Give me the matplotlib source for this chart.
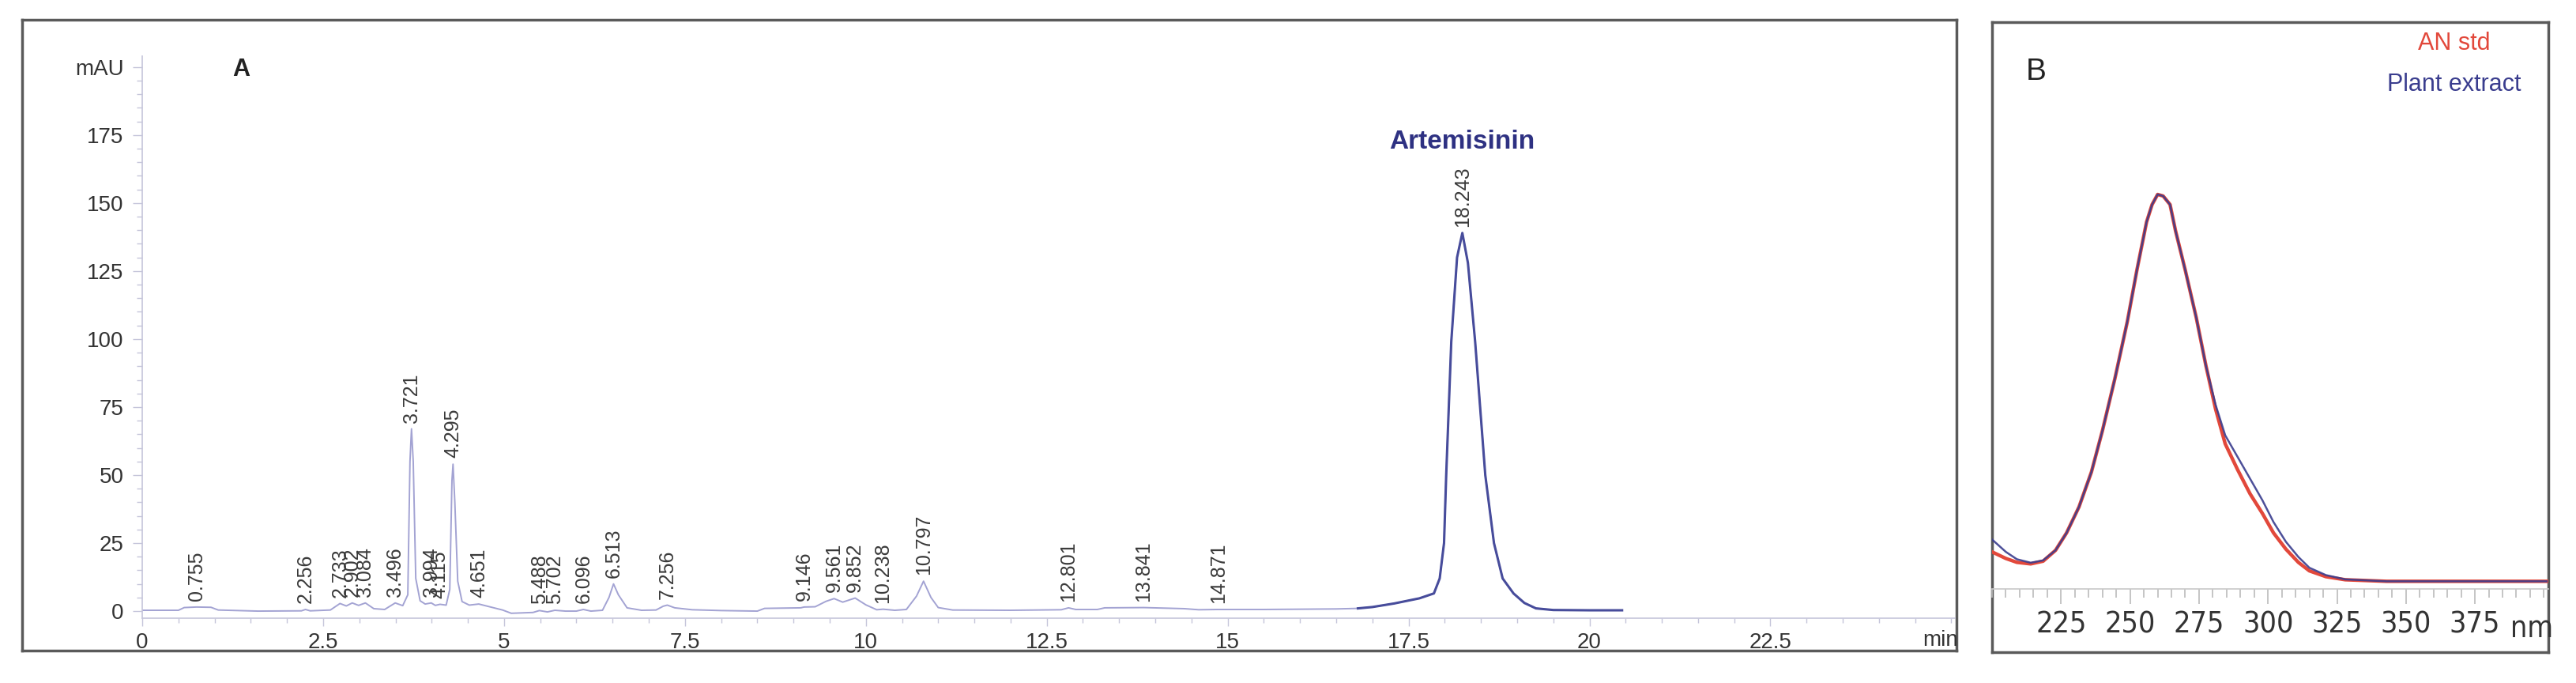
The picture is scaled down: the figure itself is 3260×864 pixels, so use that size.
import numpy as np
import matplotlib
matplotlib.use('Agg')
import matplotlib.pyplot as plt
from matplotlib.ticker import MultipleLocator, FixedLocator, FuncFormatter

plt.rcParams['font.family'] = ['Liberation Sans', 'DejaVu Sans']

# ---- panel A: HPLC chromatogram (time in min, absorbance in mAU) ----
trace_t = [0.00, 0.50, 0.58, 0.75, 0.95, 1.05, 1.60, 2.20, 2.256, 2.32,
           2.60, 2.733, 2.82, 2.902, 2.99, 3.084, 3.20, 3.35, 3.496, 3.60,
           3.67, 3.70, 3.721, 3.745, 3.78, 3.84, 3.91, 3.994, 4.05, 4.115,
           4.20, 4.25, 4.28, 4.295, 4.32, 4.36, 4.42, 4.52, 4.651, 4.80,
           4.98, 5.10, 5.40, 5.488, 5.60, 5.702, 5.85, 6.00, 6.096, 6.20,
           6.36, 6.45, 6.513, 6.58, 6.70, 6.90, 7.10, 7.20, 7.256, 7.36,
           7.60, 8.00, 8.50, 8.60, 9.10, 9.146, 9.30, 9.45, 9.561, 9.68,
           9.852, 10.00, 10.15, 10.238, 10.40, 10.56, 10.70, 10.797, 10.90, 11.00,
           11.20, 12.00, 12.70, 12.801, 12.90, 13.20, 13.30, 13.841, 14.40, 14.60,
           14.871, 15.50, 16.50, 16.80, 17.00, 17.30, 17.65, 17.85, 17.93, 17.99,
           18.02, 18.09, 18.17, 18.243, 18.32, 18.42, 18.56, 18.68, 18.80, 18.95,
           19.10, 19.26, 19.50, 20.00, 20.45]
trace_mau = [0.3, 0.3, 1.3, 1.5, 1.4, 0.4, 0.0, 0.1, 0.6, 0.1,
             0.4, 2.8, 1.9, 3.0, 2.1, 3.0, 0.9, 0.6, 3.0, 2.0,
             6.0, 55, 67, 55, 12, 3.8, 2.6, 3.0, 2.1, 2.5,
             2.2, 8, 48, 54, 40, 11, 3.5, 2.2, 2.6, 1.6,
             0.4, -0.8, -0.5, 0.2, -0.3, 0.3, 0.0, 0.0, 0.6, 0.0,
             0.3, 5.0, 10, 6.0, 1.2, 0.3, 0.4, 1.8, 2.2, 1.2,
             0.5, 0.2, 0.0, 1.0, 1.2, 1.5, 1.6, 3.6, 4.6, 3.3,
             4.8, 2.3, 0.5, 0.7, 0.3, 0.6, 5.5, 11, 5.0, 1.3,
             0.4, 0.3, 0.5, 1.2, 0.6, 0.6, 1.2, 1.3, 0.9, 0.5,
             0.6, 0.6, 0.8, 1.0, 1.5, 2.8, 4.7, 6.5, 12, 25,
             50, 99, 130, 139, 128, 99, 50, 25, 12, 6.5,
             3.0, 1.0, 0.4, 0.3, 0.3]

peak_rt = [0.755, 2.256, 2.733, 2.902, 3.084, 3.496, 3.721, 3.994, 4.115, 4.295,
           4.651, 5.488, 5.702, 6.096, 6.513, 7.256, 9.146, 9.561, 9.852, 10.238,
           10.797, 12.801, 13.841, 14.871, 18.243]
peak_h = [1.5, 0.6, 2.8, 3.0, 3.0, 3.0, 67, 3.0, 2.5, 54,
          2.6, 0.2, 0.3, 0.6, 10, 2.2, 1.5, 4.6, 4.8, 0.7,
          11, 1.2, 1.3, 0.6, 139]

x_ticks_a = [0, 2.5, 5, 7.5, 10, 12.5, 15, 17.5, 20, 22.5]
y_ticks_a = [0, 25, 50, 75, 100, 125, 150, 175, 200]

# ---- panel B: UV spectra (wavelength in nm, relative absorbance) ----
wl = [200, 205, 209, 214, 218.5, 223, 227, 231.5, 236, 240,
      244.5, 249, 252.5, 256, 258, 260, 262, 264.5, 266.5, 270,
      274, 277.5, 281, 284.5, 289, 293.5, 298, 302, 306.5, 311,
      315, 321, 328, 343, 358, 372, 387, 401]
an_std = [7.5, 5.8, 4.8, 4.4, 5.1, 7.9, 12.4, 19.1, 28.1, 38.8,
          52.2, 66.9, 80.3, 92.7, 97.2, 99.8, 99.4, 97.2, 90.4, 80.3,
          68.0, 55.6, 44.4, 35.4, 28.7, 22.5, 17.4, 12.4, 8.2, 4.8,
          2.6, 1.1, 0.3, -0.1, -0.1, -0.1, -0.1, -0.1]
plant = [10.7, 7.5, 5.6, 4.7, 5.3, 7.9, 12.4, 19.1, 28.1, 38.8,
         52.2, 66.9, 80.3, 92.7, 97.2, 99.8, 99.4, 97.2, 90.4, 80.3,
         68.0, 55.6, 45.5, 37.6, 32.0, 26.4, 20.8, 15.2, 10.1, 6.2,
         3.4, 1.5, 0.4, -0.1, -0.1, -0.1, -0.1, -0.1]
wl_ticks = [225, 250, 275, 300, 325, 350, 375]

W, H = 3260, 864


def rect(l, t, r, b):
    # pixel box -> figure fraction
    return [l / W, 1 - b / H, (r - l) / W, (b - t) / H]


def frame(box):
    f = fig.add_axes(box)
    f.set_xticks([])
    f.set_yticks([])
    for s in f.spines.values():
        s.set_color('#5a5a5a')
        s.set_linewidth(2.5)
    return f


fig = plt.figure(figsize=(W / 100, H / 100), dpi=100)

# panel A
frame(rect(28, 25, 2476, 823))
axA = fig.add_axes(rect(180, 71, 2474, 782))
axA.patch.set_alpha(0)
t = np.array(trace_t)
m = np.array(trace_mau)
axA.plot(t, m, color='#a3a3d3', lw=1.4)
seg = t >= 16.8
axA.plot(t[seg], m[seg], color='#474c9b', lw=2.2)
axA.set_xlim(0, 25.05)
axA.set_ylim(-2.6, 204)
axA.spines[['top', 'right']].set_visible(False)
for s in ['left', 'bottom']:
    axA.spines[s].set_color('#c5c5da')
    axA.spines[s].set_linewidth(1.2)
axA.xaxis.set_major_locator(FixedLocator(x_ticks_a))
axA.xaxis.set_minor_locator(MultipleLocator(0.5))
axA.xaxis.set_major_formatter(FuncFormatter(lambda v, p: f'{v:g}'))
axA.yaxis.set_major_locator(FixedLocator(y_ticks_a))
axA.yaxis.set_minor_locator(MultipleLocator(5))
axA.yaxis.set_major_formatter(FuncFormatter(lambda v, p: 'mAU' if v == 200 else f'{v:g}'))
axA.tick_params(axis='x', which='major', length=7, width=1, color='#c5c5da',
                labelsize=20, labelcolor='#333333', pad=6)
axA.tick_params(axis='x', which='minor', length=4, width=1, color='#c5c5da')
axA.tick_params(axis='y', which='major', length=9, width=1, color='#c5c5da',
                labelsize=20, labelcolor='#333333', pad=8)
axA.tick_params(axis='y', which='minor', length=5, width=1, color='#c5c5da')

for rt, h in zip(peak_rt, peak_h):
    axA.text(rt, h + 2.3, f'{rt:.3f}', rotation=90, ha='center', va='bottom',
             fontsize=18, color='#3a3a3a')
axA.text(18.24, 172.4, 'Artemisinin', ha='center', va='center', fontsize=24,
         fontweight='bold', color='#2e3182')
axA.text(24.85, -10.8, 'min', ha='center', va='center', fontsize=20,
         color='#333333', clip_on=False)
fig.text(305 / W, 1 - 88 / H, 'A', fontsize=22, fontweight='bold',
         ha='center', va='center', color='#222222')

# panel B
narrow = ['Liberation Sans Narrow', 'DejaVu Sans']
boxB = rect(2521, 28, 3225, 825)
frame(boxB)
axB = fig.add_axes(boxB)
axB.patch.set_alpha(0)
axB.plot(wl, an_std, color='#e2483b', lw=3.2)
axB.plot(wl, plant, color='#3a3d8e', lw=1.8, alpha=0.9)
axB.set_xlim(200, 401.6)
axB.set_ylim(-18.4, 144.3)
axB.spines[['top', 'left', 'right']].set_visible(False)
axB.spines['bottom'].set_position(('data', -2))
axB.spines['bottom'].set_color('#c8c8c8')
axB.spines['bottom'].set_linewidth(1.2)
axB.set_yticks([])
axB.set_xticks(wl_ticks, [str(v) for v in wl_ticks], fontfamily=narrow,
               fontstretch='condensed', fontsize=27, color='#333333')
axB.xaxis.set_minor_locator(MultipleLocator(5))
axB.tick_params(axis='x', which='major', length=14, width=1.2, color='#bbbbbb', pad=6)
axB.tick_params(axis='x', which='minor', length=8, width=1.2, color='#bbbbbb')
axB.text(395.5, -12.4, 'nm', ha='center', va='center', fontsize=27,
         family=narrow, fontstretch='condensed', color='#333333', clip_on=False)
fig.text(2577 / W, 1 - 91 / H, 'B', fontsize=28, ha='center', va='center', color='#222222')
fig.text(3106 / W, 1 - 55 / H, 'AN std', fontsize=22, ha='center', va='center', color='#e2483b')
fig.text(3106 / W, 1 - 107 / H, 'Plant extract', fontsize=22, ha='center', va='center',
         color='#3a3d8e')

fig.savefig('out.png', dpi=100)
